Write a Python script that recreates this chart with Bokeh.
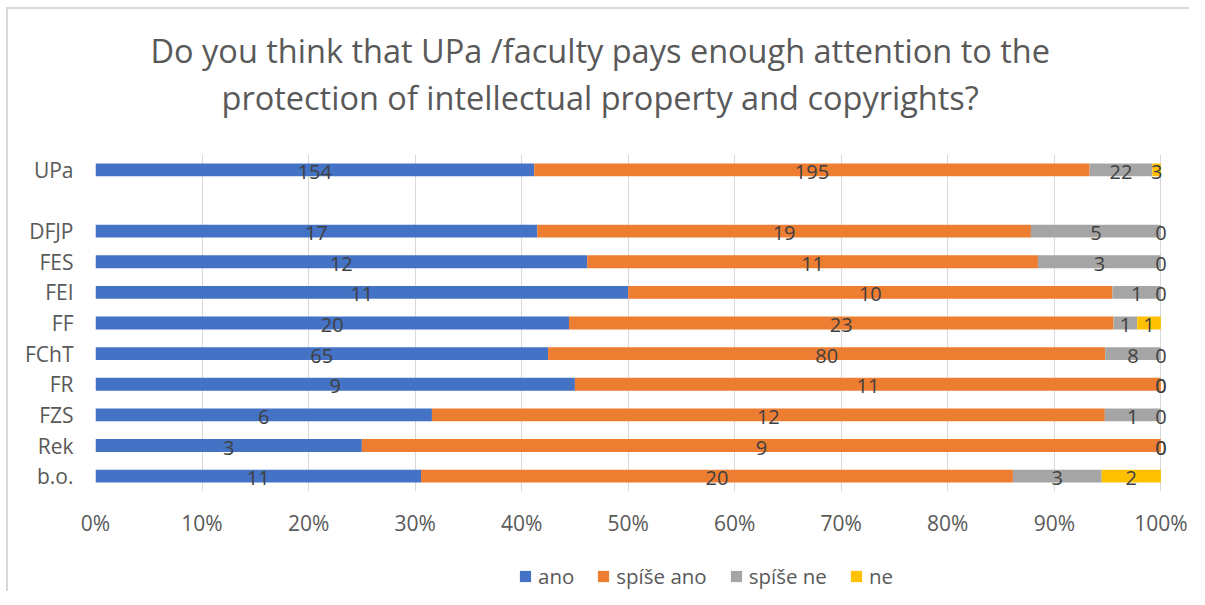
from bokeh.plotting import figure
from bokeh.layouts import column
from bokeh.models import (ColumnDataSource, Legend, LegendItem, Title,
                          NumeralTickFormatter, FixedTicker)
from bokeh.core.properties import value
from bokeh.embed import file_html
from bokeh.resources import INLINE

# ---- data ----
categories = ["UPa", "DFJP", "FES", "FEI", "FF", "FChT", "FR", "FZS", "Rek", "b.o."]
ano = [154, 17, 12, 11, 20, 65, 9, 6, 3, 11]
spise_ano = [195, 19, 11, 10, 23, 80, 11, 12, 9, 20]
spise_ne = [22, 5, 3, 1, 1, 8, 0, 1, 0, 3]
ne = [3, 0, 0, 0, 1, 0, 0, 0, 0, 2]
series_names = ["ano", "spíše ano", "spíše ne", "ne"]
colors = ["#4472C4", "#ED7D31", "#A5A5A5", "#FFC000"]
tick_values = [0, 0.1, 0.2, 0.3, 0.4, 0.5, 0.6, 0.7, 0.8, 0.9, 1.0]
title_lines = ["Do you think that UPa /faculty pays enough attention to the",
               "protection of intellectual property and copyrights?"]

FONT = "Open Sans"
GREY_TXT = "#595959"
series_vals = [ano, spise_ano, spise_ne, ne]
totals = [sum(v) for v in zip(*series_vals)]
shares = [[v / t for v, t in zip(s, totals)] for s in series_vals]

# row positions: UPa on top, one empty row, then the faculties
n = len(categories)
y_pos = [n] + list(range(n - 2, -1, -1))

data = {"y": y_pos}
for name, sh in zip(series_names, shares):
    data[name] = sh
src = ColumnDataSource(data)

# label positions (centre of every segment)
lx, ly, lt = [], [], []
cum = [0.0] * n
for s_vals, sh in zip(series_vals, shares):
    for i in range(n):
        lx.append(cum[i] + sh[i] / 2)
        ly.append(y_pos[i])
        lt.append(str(s_vals[i]))
        cum[i] += sh[i]
lsrc = ColumnDataSource(dict(x=lx, y=ly, t=lt))

W = 1181
p = figure(width=W, height=540, x_range=(0, 1.025), y_range=(-0.5, n + 0.5),
           output_backend="svg", toolbar_location=None,
           min_border_left=87, min_border_right=2, min_border_top=145, min_border_bottom=58)
p.title = None
p.outline_line_color = None

renderers = p.hbar_stack(stackers=series_names, y="y", height=0.42, color=colors,
                         line_color=None, source=src)

p.text(x="x", y="y", text="t", source=lsrc, text_align="center", text_baseline="middle",
       y_offset=2, text_font=value(FONT), text_font_size="20px", text_color="#404040")

p.xaxis.ticker = FixedTicker(ticks=tick_values)
p.xaxis.formatter = NumeralTickFormatter(format="0%")
p.yaxis.ticker = FixedTicker(ticks=y_pos)
p.yaxis.major_label_overrides = {yp: c for yp, c in zip(y_pos, categories)}
for ax in (p.xaxis, p.yaxis):
    ax.axis_line_color = None
    ax.major_tick_line_color = None
    ax.minor_tick_line_color = None
    ax.major_label_text_font = FONT
    ax.major_label_text_font_size = "21px"
    ax.major_label_text_color = GREY_TXT
p.xaxis.major_label_standoff = 11
p.yaxis.major_label_standoff = 16
p.xgrid.ticker = FixedTicker(ticks=tick_values)
p.xgrid.grid_line_color = "#d9d9d9"
p.ygrid.grid_line_color = None

# spacer closest to the frame, then the two title lines
p.add_layout(Title(text=" ", text_font=FONT, text_font_size="24px", standoff=0), "above")
title_offsets = [55, 126]
for line, off in reversed(list(zip(title_lines, title_offsets))):
    p.add_layout(Title(text=line, align="left", offset=off, standoff=0, text_font=FONT,
                       text_font_size="32.5px", text_font_style="normal",
                       text_color=GREY_TXT), "above")

# legend in a thin strip below
f2 = figure(width=W, height=42, x_range=(0, 1), y_range=(0, 1),
            output_backend="svg", toolbar_location=None,
            x_axis_type=None, y_axis_type=None,
            min_border_left=0, min_border_right=0, min_border_top=0, min_border_bottom=0)
f2.title = None
f2.outline_line_color = None
f2.grid.grid_line_color = None
dummies = [f2.hbar(y=[0], right=[0], height=0, color=c, line_color=None) for c in colors]
legend = Legend(items=[LegendItem(label=nm, renderers=[r]) for nm, r in zip(series_names, dummies)],
                orientation="horizontal", location=(423, 1), border_line_color=None,
                background_fill_alpha=0, label_text_font=FONT, label_text_font_size="20.5px",
                label_text_color=GREY_TXT, glyph_width=14, glyph_height=14,
                label_standoff=6, spacing=22, margin=0, padding=0)
f2.add_layout(legend)

layout = column(p, f2, spacing=0,
                styles={"border-left": "2px solid #d9d9d9", "border-top": "2px solid #d9d9d9",
                        "margin-left": "6px", "margin-top": "7px"})

open("out.html", "w").write(file_html(layout, INLINE))
